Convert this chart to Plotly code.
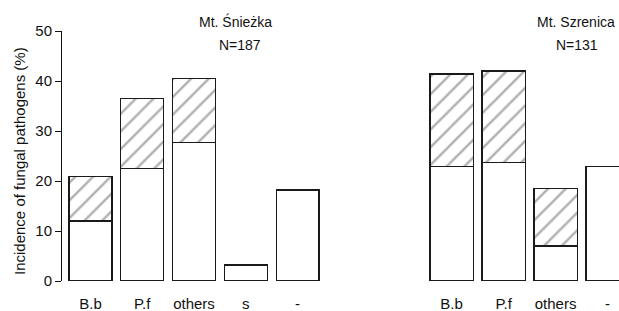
import plotly.graph_objects as go

# ---- data ----
cats_left = ["B.b", "P.f", "others", "s", "-"]
lower_left = [12.0, 22.5, 27.7, 3.2, 18.2]      # plain part
upper_left = [8.9, 14.0, 12.8, None, None]      # hatched part (stacked on top)

cats_right = ["B.b", "P.f", "others", "-"]
lower_right = [22.9, 23.7, 7.0, 22.9]
upper_right = [18.5, 18.3, 11.5, None]

title_left = "Mt. Śnieżka"
n_left = "N=187"
title_right = "Mt. Szrenica"
n_right = "N=131"
y_title = "Incidence of fungal pathogens (%)"
y_ticks = [0, 10, 20, 30, 40, 50]

FONT = "Liberation Sans, Arial, sans-serif"
line = dict(color="#1a1a1a", width=1.1)
pattern = dict(shape="/", size=12.5, solidity=0.2, fgcolor="#a8a8a8", bgcolor="white", fgopacity=0.9)

fig = go.Figure()
fig.add_trace(go.Bar(x=cats_left, y=lower_left, marker=dict(color="white", line=line),
                     xaxis="x", yaxis="y", showlegend=False, hoverinfo="skip"))
fig.add_trace(go.Bar(x=cats_left, y=upper_left, marker=dict(color="white", line=line, pattern=pattern),
                     xaxis="x", yaxis="y", showlegend=False, hoverinfo="skip"))
fig.add_trace(go.Bar(x=cats_right, y=lower_right, marker=dict(color="white", line=line),
                     xaxis="x2", yaxis="y2", showlegend=False, hoverinfo="skip"))
fig.add_trace(go.Bar(x=cats_right, y=upper_right, marker=dict(color="white", line=line, pattern=pattern),
                     xaxis="x2", yaxis="y2", showlegend=False, hoverinfo="skip"))

W, H = 619, 311
ml, mr, mt, mb = 62, 0, 31, 30
pw = W - ml - mr
ph = H - mt - mb

def px(x):
    return (x - ml) / pw

def py(y):
    return (H - mb - y) / ph

xcommon = dict(type="category", showline=False, showgrid=False, zeroline=False,
               ticks="", ticklabelstandoff=12, automargin=False,
               tickfont=dict(family=FONT, size=15, color="#111"))

fig.update_layout(
    width=W, height=H,
    margin=dict(l=ml, r=mr, t=mt, b=mb, pad=0, autoexpand=False),
    paper_bgcolor="white", plot_bgcolor="white",
    barmode="stack", bargap=0.17,
    font=dict(family=FONT, size=14, color="#111"),
    xaxis=dict(domain=[0, px(326)], range=[-0.55, 4.55], anchor="y", **xcommon),
    xaxis2=dict(domain=[px(423), 1], range=[-0.55, -0.55 + (619 - 423) / 52.0], anchor="y2", **xcommon),
    yaxis=dict(domain=[0, 1], range=[0, 50], tickvals=y_ticks, ticks="outside", ticklen=6,
               tickwidth=1, tickcolor="#111", showline=True, linecolor="#111", linewidth=1,
               showgrid=False, zeroline=False, anchor="x", automargin=False,
               tickfont=dict(family=FONT, size=15, color="#111")),
    yaxis2=dict(domain=[0, 1], range=[0, 50], visible=False, anchor="x2", automargin=False),
    annotations=[
        dict(text=title_left, x=px(235.5), y=py(22), xref="paper", yref="paper",
             xanchor="center", yanchor="middle", showarrow=False, font=dict(size=14)),
        dict(text=n_left, x=px(239.5), y=py(45), xref="paper", yref="paper",
             xanchor="center", yanchor="middle", showarrow=False, font=dict(size=14)),
        dict(text=title_right, x=px(535), y=py(22), xref="paper", yref="paper",
             xanchor="left", yanchor="middle", showarrow=False, font=dict(size=14)),
        dict(text=n_right, x=px(576.5), y=py(45), xref="paper", yref="paper",
             xanchor="center", yanchor="middle", showarrow=False, font=dict(size=14)),
        dict(text=y_title, x=px(19), y=py(161), xref="paper", yref="paper",
             xanchor="center", yanchor="middle", textangle=-90, showarrow=False,
             font=dict(size=15)),
    ],
)

fig.write_html("out.html", config={"displayModeBar": False, "staticPlot": True},
               post_script="document.body.style.margin='0px';document.body.style.overflow='hidden';")
